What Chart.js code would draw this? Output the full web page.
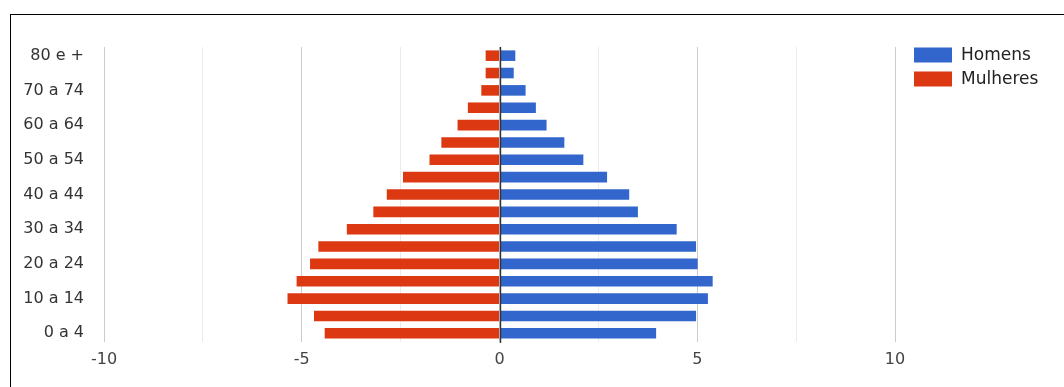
<!DOCTYPE html>
<html>
<head>
<meta charset="utf-8">
<title>Pirâmide etária</title>
<script src="https://cdn.jsdelivr.net/npm/chart.js@4/dist/chart.umd.min.js"></script>
<style>
  html, body { margin: 0; padding: 0; background: #fff; }
  #wrap { position: relative; width: 1064px; height: 387px; overflow: hidden; }
  #frame {
    position: absolute; left: 10px; top: 14px; right: 0; bottom: 0;
    border-left: 1px solid #000; border-top: 1px solid #000;
    pointer-events: none;
  }
  canvas { display: block; }
</style>
</head>
<body>
<div id="wrap">
  <canvas id="chart" width="1064" height="387"></canvas>
  <div id="frame"></div>
</div>
<script>
// Age groups, youngest first (drawn bottom-up)
const ageGroups = [
  '0 a 4', '5 a 9', '10 a 14', '15 a 19', '20 a 24', '25 a 29', '30 a 34',
  '35 a 39', '40 a 44', '45 a 49', '50 a 54', '55 a 59', '60 a 64',
  '65 a 69', '70 a 74', '75 a 79', '80 e +'
];

// Share of population (%) per age group
const homens = [
  3.96, 4.97, 5.27, 5.39, 5.01, 4.97, 4.48,
  3.50, 3.28, 2.72, 2.12, 1.64, 1.19,
  0.92, 0.66, 0.36, 0.40
];
// Women are plotted to the left of zero
const mulheres = [
  -4.42, -4.69, -5.36, -5.13, -4.79, -4.58, -3.86,
  -3.19, -2.85, -2.44, -1.77, -1.47, -1.06,
  -0.80, -0.46, -0.35, -0.35
];

const seriesNames = ['Homens', 'Mulheres'];
const seriesColors = ['#3366cc', '#dc3912'];

// Horizontal axis range and labelled ticks
const xMin = -10;
const xMax = 10;
const xStep = 2.5;
const xLabelled = [-10, -5, 0, 5, 10];

const FONT = '"DejaVu Sans", "Liberation Sans", Arial, sans-serif';

// Dark baseline at zero, drawn over the bars
const zeroLine = {
  id: 'zeroLine',
  afterDatasetsDraw(chart) {
    const x = Math.round(chart.scales.x.getPixelForValue(0)) + 0.5;
    const { top, bottom } = chart.chartArea;
    const ctx = chart.ctx;
    ctx.save();
    ctx.strokeStyle = '#333';
    ctx.lineWidth = 1.4;
    ctx.beginPath();
    ctx.moveTo(x, top);
    ctx.lineTo(x, bottom + 1);
    ctx.stroke();
    ctx.restore();
  }
};

// Legend to the right of the plot: colour box followed by the series name
const sideLegend = {
  id: 'sideLegend',
  afterDraw(chart) {
    const ctx = chart.ctx;
    const left = chart.chartArea.right + 19;
    const top = chart.chartArea.top;
    ctx.save();
    ctx.font = '17px ' + FONT;
    ctx.textBaseline = 'middle';
    ctx.textAlign = 'left';
    chart.data.datasets.forEach((ds, i) => {
      const y = top + i * 24;
      ctx.fillStyle = ds.backgroundColor;
      ctx.fillRect(left, y + 0.5, 38, 15);
      ctx.fillStyle = '#222';
      ctx.fillText(ds.label, left + 47, y + 8.5);
    });
    ctx.restore();
  }
};

new Chart(document.getElementById('chart'), {
  type: 'bar',
  data: {
    labels: ageGroups,
    datasets: [
      { label: seriesNames[0], data: homens, backgroundColor: seriesColors[0] },
      { label: seriesNames[1], data: mulheres, backgroundColor: seriesColors[1] }
    ]
  },
  options: {
    indexAxis: 'y',
    responsive: false,
    animation: false,
    layout: { padding: { left: 0, right: 169, top: 47, bottom: 0 } },
    datasets: {
      bar: { categoryPercentage: 1, barPercentage: 0.61, borderWidth: 0 }
    },
    plugins: {
      legend: { display: false },
      tooltip: { enabled: false }
    },
    scales: {
      x: {
        stacked: true,
        min: xMin,
        max: xMax,
        afterFit(scale) { scale.height = 45; },
        afterBuildTicks(scale) {
          const ticks = [];
          for (let v = xMin; v <= xMax + 1e-9; v += xStep) ticks.push({ value: v });
          scale.ticks = ticks;
        },
        ticks: {
          autoSkip: false,
          maxRotation: 0,
          padding: 8,
          color: '#444',
          font: { family: FONT, size: 16 },
          callback: (v) => (xLabelled.includes(v) ? String(v) : '')
        },
        grid: {
          drawTicks: false,
          color: (c) => (c.tick && xLabelled.includes(c.tick.value) ? '#cccccc' : '#ebebeb'),
          lineWidth: 1
        },
        border: { display: false }
      },
      y: {
        stacked: true,
        reverse: true,
        afterFit(scale) { scale.width = 104; },
        ticks: {
          autoSkip: false,
          padding: 20,
          color: '#333',
          font: { family: FONT, size: 16 },
          callback: function (v, i) { return i % 2 === 0 ? this.getLabelForValue(v) : ''; }
        },
        grid: { display: false, drawTicks: false },
        border: { display: false }
      }
    }
  },
  plugins: [zeroLine, sideLegend]
});
</script>
</body>
</html>
